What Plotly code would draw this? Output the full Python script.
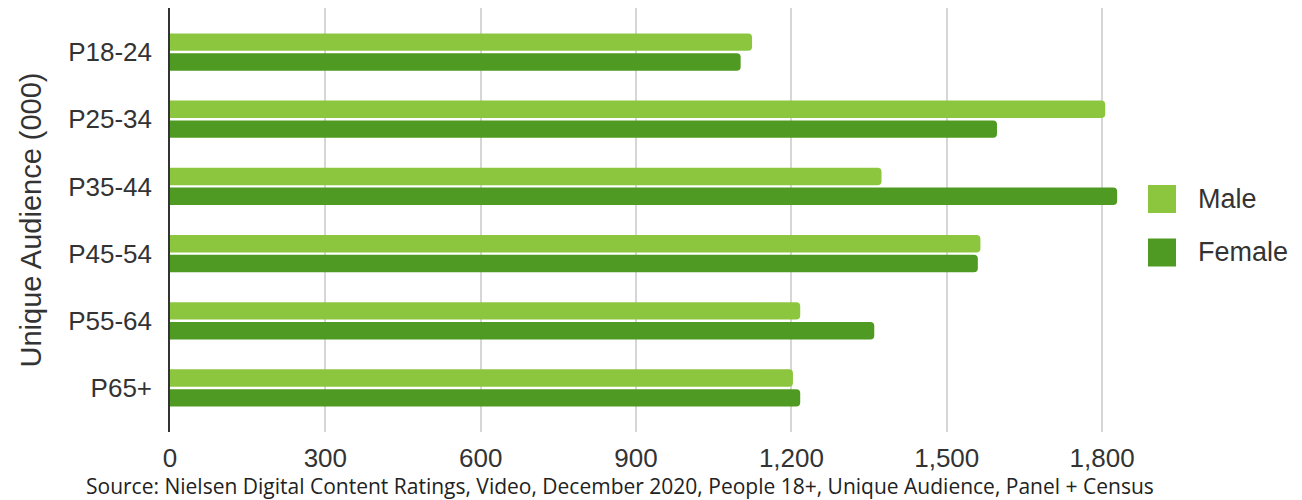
import plotly.graph_objects as go

categories = ["P18-24", "P25-34", "P35-44", "P45-54", "P55-64", "P65+"]
male = [1124, 1806, 1374, 1565, 1217, 1203]
female = [1102, 1597, 1829, 1560, 1360, 1217]
x_ticks = [0, 300, 600, 900, 1200, 1500, 1800]
x_tick_labels = ["0", "300", "600", "900", "1,200", "1,500", "1,800"]
series_names = ["Male", "Female"]

MALE_C = "#8cc63f"
FEMALE_C = "#4f9a22"
FONT = "Liberation Sans, Arial, sans-serif"
TICK_FONT = dict(family=FONT, size=26, color="#333333")

fig = go.Figure()
fig.add_trace(go.Bar(y=categories, x=male, orientation="h", name=series_names[0],
                     marker=dict(color=MALE_C, line=dict(width=0))))
fig.add_trace(go.Bar(y=categories, x=female, orientation="h", name=series_names[1],
                     marker=dict(color=FEMALE_C, line=dict(width=0))))

# Legend drawn with large squares (paper coordinates: x0=170px, w=958px; y0=432px, h=424px)
PX0, PW, PY0, PH = 170.0, 958.0, 432.0, 424.0
def px_x(v):
    return (v - PX0) / PW
def px_y(v):
    return (PY0 - v) / PH

shapes = []
annotations = []
for name, color, cy in [(series_names[0], MALE_C, 199), (series_names[1], FEMALE_C, 252.5)]:
    shapes.append(dict(type="rect", xref="paper", yref="paper",
                       x0=px_x(1148), x1=px_x(1176), y0=px_y(cy + 14), y1=px_y(cy - 14),
                       fillcolor=color, line=dict(width=0), layer="above"))
    annotations.append(dict(text=name, xref="paper", yref="paper", x=px_x(1196), y=px_y(cy),
                            xanchor="left", yanchor="middle", showarrow=False,
                            font=dict(family=FONT, size=27, color="#333333")))

annotations.append(dict(text="Source: Nielsen Digital Content Ratings, Video, December 2020, People 18+, Unique Audience, Panel + Census",
                        xref="paper", yref="paper", x=px_x(620), y=px_y(486), xanchor="center", yanchor="middle",
                        showarrow=False,
                        font=dict(family="Open Sans, sans-serif", size=21, color="#222222")))

fig.update_layout(
    width=1302, height=500,
    margin=dict(l=170, r=174, t=8, b=68),
    paper_bgcolor="white", plot_bgcolor="white",
    barmode="group", bargap=0.41, bargroupgap=0.12,
    barcornerradius=4,
    showlegend=False,
    xaxis=dict(range=[0, 1850], tickvals=x_ticks, ticktext=x_tick_labels,
               showgrid=True, gridcolor="#d6d6d6", gridwidth=1.5,
               zeroline=False, showline=False, ticks="", tickfont=TICK_FONT,
               ticklabelstandoff=8),
    yaxis=dict(categoryorder="array", categoryarray=categories,
               range=[5.655, -0.655], showgrid=False, zeroline=False,
               showline=True, linecolor="#333333", linewidth=1.5, ticks="",
               tickfont=TICK_FONT, ticklabelstandoff=11,
               title=dict(text="Unique Audience (000)", standoff=18,
                          font=dict(family=FONT, size=29, color="#333333"))),
    shapes=shapes,
    annotations=annotations,
)

fig.write_html("out.html")
